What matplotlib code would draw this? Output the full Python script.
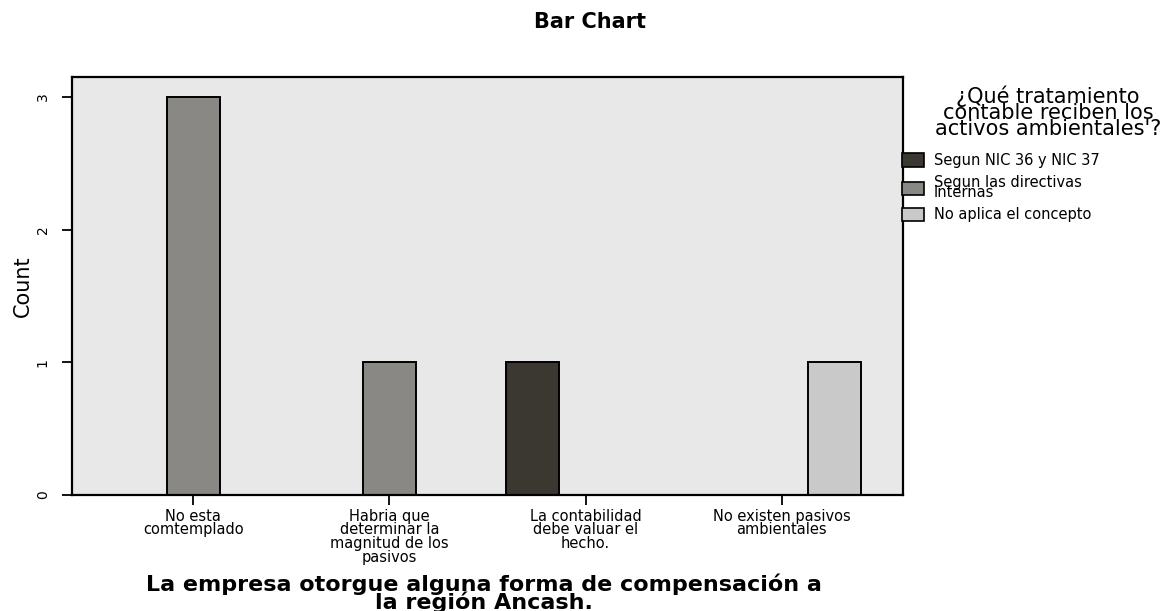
import numpy as np
import matplotlib.pyplot as plt

plt.rcParams['font.family'] = 'DejaVu Sans'

# Categories on the x axis and counts for each legend group
categories = ['No esta\ncomtemplado',
              'Habria que\ndeterminar la\nmagnitud de los\npasivos',
              'La contabilidad\ndebe valuar el\nhecho.',
              'No existen pasivos\nambientales']
groups = ['Segun NIC 36 y NIC 37',
          'Segun las directivas\nInternas',
          'No aplica el concepto']
counts = {
    'Segun NIC 36 y NIC 37':           [0, 0, 1, 0],
    'Segun las directivas\nInternas':  [3, 1, 0, 0],
    'No aplica el concepto':           [0, 0, 0, 1],
}
colors = ['#3b3731', '#8a8884', '#c9c9c9']
y_ticks = [0, 1, 2, 3]

W, H = 1175, 611
fig = plt.figure(figsize=(W / 100, H / 100), dpi=100)
ax = fig.add_axes([72 / W, 1 - 495 / H, (903 - 72) / W, (495 - 77) / H])
ax.set_facecolor('#e8e8e8')

x = np.arange(len(categories))
width = 0.27
offsets = [-width, 0, width]
handles = []
for g, off, c in zip(groups, offsets, colors):
    vals = np.array(counts[g])
    mask = vals > 0
    ax.bar(x[mask] + off, vals[mask], width=width, color=c,
           edgecolor='black', linewidth=1.4)
    handles.append(plt.Rectangle((0, 0), 1, 1, facecolor=c,
                                 edgecolor='black', linewidth=1.2))

ax.set_xlim(-0.617, 3.617)
ax.set_ylim(0, 3.15)
ax.set_xticks(x)
ax.set_xticklabels(categories, fontsize=10.5, linespacing=0.88)
ax.set_yticks(y_ticks)
ax.set_yticklabels([str(t) for t in y_ticks], rotation=90, va='center',
                   fontsize=10)
ax.tick_params(axis='both', direction='out', length=7, width=1.3)
ax.tick_params(axis='x', pad=3)
ax.tick_params(axis='y', pad=9)

for s in ax.spines.values():
    s.set_linewidth(1.6)
    s.set_color('black')

ax.set_ylabel('Count', fontsize=15, va='center')
ax.yaxis.set_label_coords((23 - 72) / (903 - 72), 0.5)
ax.set_xlabel('La empresa otorgue alguna forma de compensación a\nla región Ancash.',
              fontsize=16, fontweight='bold', linespacing=0.78, va='center')
ax.xaxis.set_label_coords((484 - 72) / (903 - 72), -(593 - 495) / (495 - 77))

fig.text(590 / W, 1 - 22 / H, 'Bar Chart', ha='center', va='center',
         fontsize=15, fontweight='bold')

# legend title drawn centred above the entries, as in the SPSS output
fig.text(1048 / W, 1 - 112 / H,
         '¿Qué tratamiento\ncontable reciben los\nactivos ambientales\'?',
         ha='center', va='center', fontsize=15, linespacing=0.76)

leg = fig.legend(handles, groups, loc='upper left',
                 bbox_to_anchor=(902 / W, 1 - 153 / H),
                 frameon=False, fontsize=10.5,
                 handlelength=1.5, handleheight=1.0, handletextpad=0.7,
                 labelspacing=0.45, borderpad=0.0, borderaxespad=0.0)
for t in leg.get_texts():
    t.set_linespacing(0.66)

fig.savefig('out.png', dpi=100, facecolor='white')
